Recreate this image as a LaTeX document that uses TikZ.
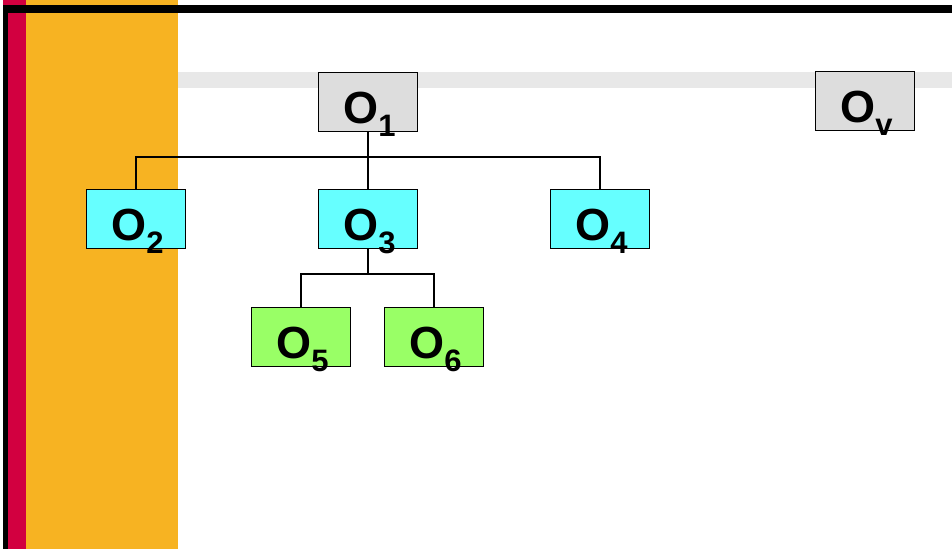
\documentclass[tikz,border=0pt]{standalone}
\usepackage{fontspec}
\setmainfont{Liberation Sans}
\definecolor{redstrip}{HTML}{D20040}
\definecolor{orangebar}{HTML}{F7B322}
\definecolor{band}{HTML}{E8E8E8}
\definecolor{graybox}{HTML}{DDDDDD}
\definecolor{cyanbox}{HTML}{66FFFF}
\definecolor{greenbox}{HTML}{99FF66}
\newcommand\objlabel[1]{\bfseries\fontsize{45}{45}\selectfont O\raisebox{-12.5pt}{\fontsize{31}{31}\selectfont #1}}
\tikzset{
  objbox/.style={draw=black, line width=1pt, minimum width=99pt, minimum height=59pt, inner sep=0pt, anchor=north west},
  objtext/.style={anchor=base, inner sep=0pt},
  conn/.style={draw=black, line width=1.2pt}
}
\begin{document}
\begin{tikzpicture}[x=1pt,y=-1pt]
\useasboundingbox (0,0) rectangle (952,549);
% background decorations
\fill[orangebar] (26,0) rectangle (178,549);
\fill[redstrip] (3,0) rectangle (26,549);
\fill[black] (3,5) rectangle (952,13);
\fill[black] (3,5) rectangle (8,549);
\fill[band] (178,72) rectangle (952,88);
% boxes
\node[objbox, fill=graybox] (o1) at (318,72) {};
\node[objbox, fill=graybox] (ov) at (815,71) {};
\node[objbox, fill=cyanbox] (o2) at (86,189) {};
\node[objbox, fill=cyanbox] (o3) at (318,189) {};
\node[objbox, fill=cyanbox] (o4) at (550,189) {};
\node[objbox, fill=greenbox] (o5) at (251,307) {};
\node[objbox, fill=greenbox] (o6) at (384,307) {};
% connectors
\coordinate (j1) at (368,157);
\coordinate (j3) at (368,274);
\draw[conn] (o1.south) -- (j1);
\draw[conn] (j1) -| (o2.north);
\draw[conn] (j1) -- (o3.north);
\draw[conn] (j1) -| (o4.north);
\draw[conn] (o3.south) -- (j3);
\draw[conn] (j3) -| (o5.north);
\draw[conn] (j3) -| (o6.north);
% labels
\node[objtext] (t1) at (369.5,123.5) {\objlabel{1}};
\node[objtext] (tv) at (866.5,122.5) {\objlabel{v}};
\node[objtext] (t2) at (137.5,240.5) {\objlabel{2}};
\node[objtext] (t3) at (369.5,240.5) {\objlabel{3}};
\node[objtext] (t4) at (601.5,240.5) {\objlabel{4}};
\node[objtext] (t5) at (302.5,358.5) {\objlabel{5}};
\node[objtext] (t6) at (435.5,358.5) {\objlabel{6}};
\end{tikzpicture}
\end{document}
